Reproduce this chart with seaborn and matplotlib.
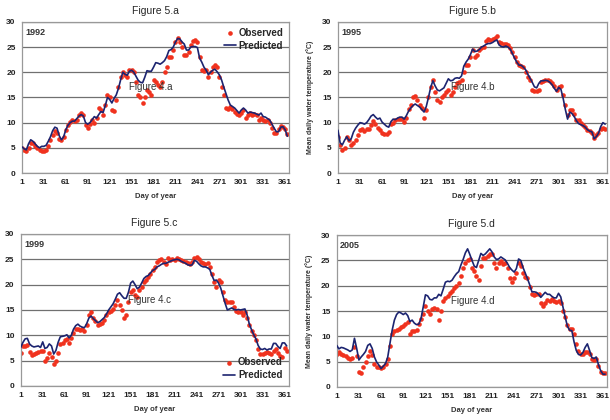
import matplotlib
matplotlib.use('Agg')
import matplotlib.pyplot as plt
import numpy as np
import pandas as pd
import seaborn as sns

# day of year sampled every 3 days
days = np.arange(1, 366, 3)

obs_1992 = [5.0, 4.6, 4.3, 5.0, 5.9, 5.9, 5.3, 4.9, 4.6, 4.4,
            4.3, 4.5, 5.3, 6.5, 7.5, 8.3, 8.0, 6.8, 6.5, 7.2,
            8.6, 9.5, 10.2, 10.6, 10.3, 10.6, 11.5, 12.0, 11.5, 9.5,
            9.0, 9.8, 10.5, 10.0, 11.0, 13.0, 12.5, 11.5, 13.5, 15.5,
            15.0, 12.5, 12.3, 14.5, 17.0, 19.0, 20.0, 19.5, 19.0, 20.5,
            20.5, 20.0, 18.0, 15.5, 15.0, 13.8, 15.0, 16.5, 16.0, 15.5,
            18.5, 18.0, 17.5, 17.0, 18.0, 20.0, 21.0, 23.0, 23.0, 24.5,
            26.0, 26.7, 26.0, 25.0, 23.5, 23.5, 24.0, 25.5, 26.2, 26.4,
            26.0, 23.0, 20.5, 20.2, 20.5, 19.0, 20.0, 21.0, 21.5, 21.0,
            19.0, 17.0, 15.5, 13.0, 12.8, 13.2, 12.8, 12.2, 11.8, 11.5,
            12.0, 12.5, 11.0, 11.5, 12.0, 11.5, 11.7, 11.5, 10.6, 11.0,
            10.5, 10.3, 10.5, 10.0, 9.0, 8.0, 8.0, 8.8, 9.3, 9.2,
            8.8, 7.8]
pred_1992 = [5.2, 4.8, 4.6, 5.8, 6.6, 6.3, 5.8, 5.3, 5.0, 5.3,
             5.3, 5.5, 6.3, 7.2, 8.4, 9.1, 8.9, 7.4, 6.6, 7.2,
             8.6, 9.5, 10.0, 10.3, 10.3, 10.8, 11.3, 11.6, 11.3, 10.0,
             9.7, 10.0, 10.6, 11.2, 10.9, 11.6, 12.2, 12.0, 13.4, 15.0,
             14.6, 13.9, 14.8, 15.5, 16.8, 18.5, 20.0, 19.6, 19.4, 20.2,
             20.4, 20.0, 19.2, 18.4, 18.0, 17.9, 19.0, 20.3, 20.2, 20.2,
             21.0, 21.9, 21.8, 21.6, 21.9, 22.3, 23.1, 24.3, 24.5, 25.0,
             26.0, 26.7, 26.6, 26.0, 25.6, 24.4, 24.4, 25.0, 25.1, 25.1,
             24.9, 22.8, 22.0, 21.0, 20.4, 19.5, 20.0, 20.4, 20.6, 20.1,
             19.5, 18.5, 17.1, 15.8, 14.5, 13.5, 13.2, 12.9, 12.4, 11.9,
             12.5, 12.9, 12.5, 11.9, 12.1, 12.0, 11.9, 11.7, 11.5, 11.9,
             11.2, 11.1, 10.8, 10.5, 9.7, 8.9, 8.2, 8.2, 9.1, 9.2,
             8.6, 7.3]

obs_1995 = [7.2, 5.5, 4.6, 5.0, 7.2, 6.5, 5.5, 6.0, 6.5, 7.5,
            8.5, 8.8, 8.4, 8.8, 8.8, 9.5, 10.3, 9.8, 9.0, 8.5,
            8.0, 7.8, 7.8, 8.2, 9.8, 10.0, 10.5, 10.8, 10.8, 10.8,
            10.2, 11.0, 12.8, 13.5, 15.0, 15.3, 14.5, 13.5, 13.0, 11.0,
            12.5, 15.0, 17.0, 18.5, 16.0, 14.5, 14.0, 15.0, 15.5, 16.0,
            16.5, 15.5, 16.0, 17.0, 17.8, 18.0, 18.5, 20.0, 21.5, 21.5,
            23.0, 24.5, 23.0, 23.5, 24.5, 24.8, 25.0, 26.2, 26.5, 26.3,
            26.5, 26.8, 27.2, 26.0, 25.8, 25.7, 25.7, 25.5, 24.8, 24.0,
            23.0, 22.0, 21.5, 21.3, 21.0, 20.0, 19.0, 18.5, 16.5, 16.3,
            16.3, 16.5, 18.0, 18.3, 18.5, 18.5, 18.2, 17.8, 17.3, 16.5,
            17.0, 17.2, 15.5, 13.5, 11.5, 12.5, 12.5, 11.8, 10.5, 10.5,
            10.0, 9.5, 9.2, 8.5, 8.3, 8.0, 7.0, 7.5, 8.0, 8.8,
            9.0, 8.8]
pred_1995 = [8.5, 6.0, 5.6, 6.5, 7.2, 6.4, 6.8, 8.1, 8.9, 9.5,
             10.0, 9.9, 9.7, 10.0, 10.6, 11.3, 11.6, 11.1, 10.7, 10.9,
             10.1, 9.7, 9.3, 9.1, 10.2, 10.7, 10.6, 10.9, 11.1, 11.1,
             10.7, 11.4, 12.3, 12.9, 13.4, 13.7, 13.4, 13.1, 12.6, 12.1,
             13.2, 15.0, 17.0, 18.3, 17.3, 16.5, 16.3, 16.6, 16.9, 17.8,
             18.7, 18.3, 18.4, 18.8, 18.9, 18.8, 19.3, 21.2, 22.0, 22.6,
             23.5, 24.6, 24.1, 24.2, 24.5, 25.0, 25.2, 25.5, 25.7, 25.7,
             25.9, 26.2, 26.4, 25.4, 25.1, 25.0, 25.2, 25.0, 24.6, 23.7,
             22.8, 22.0, 21.4, 21.4, 21.0, 20.5, 19.6, 18.8, 18.0, 17.1,
             16.9, 17.8, 18.3, 18.3, 18.4, 18.3, 18.0, 17.5, 16.8, 16.2,
             17.0, 16.6, 14.8, 12.6, 10.7, 12.1, 11.8, 11.2, 10.4, 9.8,
             9.6, 9.4, 9.1, 8.6, 8.3, 8.2, 6.8, 7.2, 7.9, 9.2,
             10.0, 9.7]

obs_1999 = [6.5, 7.8, 7.8, 8.0, 6.8, 6.2, 6.3, 6.5, 6.8, 7.0,
            7.0, 5.0, 5.5, 6.5, 5.8, 4.3, 5.0, 6.5, 8.3, 8.5,
            9.0, 9.3, 8.5, 9.5, 10.5, 11.2, 11.3, 11.0, 11.2, 10.8,
            12.0, 14.0, 14.5, 13.5, 12.8, 12.0, 12.3, 12.5, 13.0, 14.0,
            14.5, 14.8, 15.2, 16.0, 17.0, 16.0, 15.0, 13.5, 14.0, 16.5,
            18.5, 19.0, 18.0, 17.5, 19.0, 19.5, 20.5, 21.0, 21.5, 22.0,
            22.8, 23.5, 24.5, 24.8, 25.0, 24.5, 24.0, 25.3, 24.8, 25.0,
            24.8, 25.2, 25.0, 24.8, 24.6, 24.4, 24.3, 24.0, 24.5, 25.3,
            25.5, 25.0, 24.5, 24.2, 24.0, 24.3, 23.5, 22.0, 20.5, 19.5,
            21.0, 20.5, 18.5, 17.0, 16.5, 16.5, 16.6, 15.5, 14.8, 14.5,
            14.5, 14.0, 14.5, 13.5, 12.0, 10.8, 10.0, 9.0, 7.2, 6.3,
            6.3, 6.5, 6.8, 6.5, 6.3, 7.0, 7.3, 6.5, 6.0, 5.8,
            7.5, 7.0]
pred_1999 = [7.6, 8.6, 9.3, 9.4, 8.3, 7.9, 7.7, 7.8, 7.9, 7.6,
             8.7, 7.4, 7.6, 8.3, 7.9, 6.3, 7.0, 8.6, 9.7, 9.8,
             9.9, 10.1, 9.5, 10.0, 11.2, 11.9, 12.2, 11.8, 11.6, 11.5,
             12.3, 13.4, 13.8, 13.3, 12.9, 12.5, 12.7, 13.1, 13.5, 14.2,
             15.0, 15.6, 16.2, 17.1, 18.1, 18.4, 17.8, 17.3, 17.3, 18.5,
             20.3, 20.7, 20.0, 19.2, 19.5, 20.3, 21.2, 21.6, 21.8, 22.3,
             22.8, 23.0, 23.5, 23.7, 24.0, 24.2, 24.2, 24.4, 24.6, 24.8,
             24.9, 25.0, 24.9, 24.6, 24.4, 24.2, 23.9, 23.8, 23.9, 24.8,
             24.6, 24.1, 23.7, 23.5, 23.5, 23.3, 23.0, 21.8, 20.8, 20.9,
             20.3, 19.3, 17.8, 16.3, 15.0, 15.2, 15.4, 15.1, 15.0, 15.1,
             15.0, 15.1, 15.2, 14.0, 12.2, 11.1, 10.1, 9.3, 8.0, 7.3,
             7.2, 7.4, 7.1, 7.3, 7.3, 8.4, 8.4, 7.8, 7.4, 8.5,
             8.5, 7.9]

obs_2005 = [6.5, 6.8, 6.5, 6.2, 6.0, 5.8, 5.5, 5.8, 7.8, 6.0,
            3.0, 2.8, 4.0, 5.0, 6.0, 7.0, 6.2, 4.5, 4.0, 4.0,
            3.8, 4.0, 4.5, 5.5, 8.0, 10.5, 11.0, 11.2, 11.5, 11.8,
            12.0, 12.5, 12.8, 10.5, 11.0, 11.0, 11.2, 12.5, 13.5, 14.5,
            16.0, 15.0, 14.5, 15.3, 15.5, 15.3, 13.2, 15.0, 17.0, 17.5,
            18.0, 18.5, 19.0, 19.5, 20.0, 20.5, 22.0, 23.5, 24.5, 25.0,
            25.2, 23.5, 23.0, 22.0, 21.2, 24.0, 25.5, 25.5, 25.8, 26.2,
            26.3, 24.5, 23.5, 24.5, 24.8, 24.3, 24.5, 23.5, 21.5, 20.8,
            21.5, 22.5, 24.5, 24.0, 22.5, 21.8, 21.5, 19.8, 18.3, 18.2,
            18.4, 18.3, 16.5, 16.0, 16.5, 17.2, 17.0, 17.3, 17.0, 16.8,
            17.0, 16.5, 15.0, 13.8, 12.3, 11.5, 11.5, 10.5, 8.5, 7.0,
            6.5, 6.5, 6.8, 6.8, 6.5, 5.5, 5.3, 5.5, 4.2, 3.0,
            2.8, 2.8]
pred_2005 = [8.2, 7.5, 7.8, 7.7, 7.5, 7.3, 7.0, 7.3, 9.6, 7.6,
             5.3, 5.9, 6.4, 7.0, 8.2, 8.5, 7.6, 5.9, 4.9, 4.3,
             3.6, 4.1, 4.6, 5.9, 8.6, 11.2, 13.2, 14.3, 14.8, 14.6,
             14.3, 14.6, 14.1, 12.9, 13.2, 12.6, 12.3, 12.4, 13.5, 15.8,
             18.2, 18.0, 17.3, 17.2, 17.6, 17.6, 18.3, 18.0, 19.3, 20.7,
             20.9, 20.8, 21.1, 21.8, 22.4, 22.8, 24.1, 25.2, 26.5, 27.3,
             26.2, 25.0, 23.9, 23.6, 25.0, 26.4, 26.0, 26.3, 26.8, 27.3,
             26.7, 25.7, 25.2, 25.3, 25.7, 25.4, 25.1, 24.4, 23.6, 23.1,
             22.7, 23.4, 25.3, 25.0, 23.6, 22.5, 21.4, 20.2, 18.8, 18.8,
             18.7, 18.3, 17.7, 18.2, 18.7, 18.3, 18.3, 17.9, 17.6, 17.6,
             18.5, 17.8, 15.8, 13.8, 12.0, 11.2, 11.1, 8.9, 7.2, 6.4,
             6.3, 6.8, 7.8, 8.5, 7.2, 5.8, 5.6, 5.9, 4.4, 3.2,
             2.5, 2.5]

panels = ['a', 'b', 'c', 'd']
years = ['1992', '1995', '1999', '2005']
observed = [obs_1992, obs_1995, obs_1999, obs_2005]
predicted = [pred_1992, pred_1995, pred_1999, pred_2005]
note_x = [147, 155, 147, 155]
legend_loc = ['upper right', None, 'lower right', None]

# axes boxes in figure fractions (left, bottom, width, height)
boxes = [(0.036, 0.588, 0.438, 0.360),
         (0.554, 0.588, 0.441, 0.360),
         (0.034, 0.081, 0.439, 0.362),
         (0.552, 0.079, 0.443, 0.361)]

sns.set_style('white')
plt.rcParams['font.family'] = ['Liberation Sans', 'DejaVu Sans']

red = '#f0321e'
navy = '#1c2470'

fig = plt.figure(figsize=(6.1, 4.2), dpi=100)
for i in range(4):
    ax = fig.add_axes(boxes[i])
    df = pd.DataFrame({'Day': days, 'Observed': observed[i], 'Predicted': predicted[i]})
    ax.set_axisbelow(True)
    ax.yaxis.grid(True, color='#707070', linewidth=0.9)
    sns.scatterplot(data=df, x='Day', y='Observed', color=red, s=11, linewidth=0,
                    label='Observed', ax=ax, zorder=2)
    sns.lineplot(data=df, x='Day', y='Predicted', color=navy, linewidth=1.2,
                 label='Predicted', ax=ax, zorder=3)
    ax.set_xlim(1, 366.5)
    ax.set_ylim(0, 30)
    ax.set_xticks(np.arange(1, 366, 30))
    ax.set_yticks(np.arange(0, 31, 5))
    ax.tick_params(axis='both', labelsize=6, length=2.5, width=0.8, color='#888888', pad=2)
    for lab in ax.get_xticklabels() + ax.get_yticklabels():
        lab.set_fontweight('bold')
        lab.set_color('#222222')
    for sp in ax.spines.values():
        sp.set_color('#999999')
        sp.set_linewidth(0.9)
    ax.set_title('Figure 5.' + panels[i], fontsize=7.5, pad=6)
    ax.set_xlabel('Day of year', fontsize=5.5, fontweight='bold', labelpad=5, color='#333333')
    ax.set_ylabel('Mean daily water temperature (°C)', fontsize=5, fontweight='bold',
                  labelpad=6, color='#333333')
    ax.text(0.012, 0.93, years[i], transform=ax.transAxes, fontsize=6.5,
            fontweight='bold', color='#333333', va='center')
    ax.text(note_x[i], 17, 'Figure 4.' + panels[i], fontsize=7, color='#333333', va='center')
    if legend_loc[i]:
        ax.legend(loc=legend_loc[i], frameon=False, handlelength=1.2,
                  handletextpad=0.3, borderaxespad=0.2, labelspacing=0.3,
                  prop={'weight': 'bold', 'size': 7})
    else:
        ax.get_legend().remove()

fig.savefig('out.png', dpi=100)
